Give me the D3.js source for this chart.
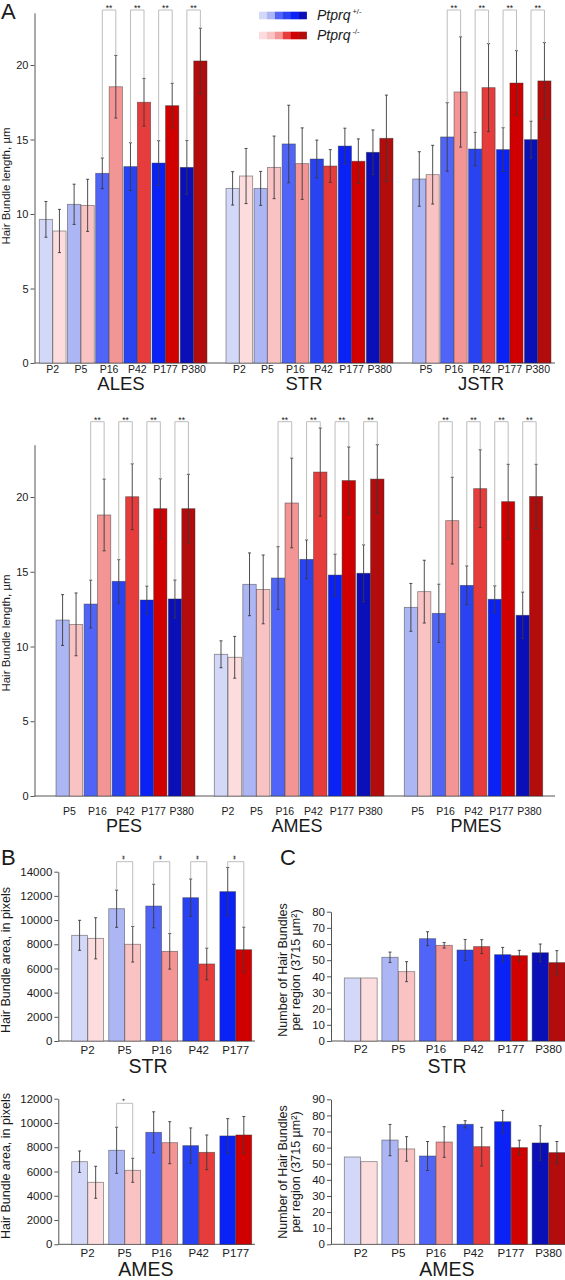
<!DOCTYPE html>
<html><head><meta charset="utf-8">
<script src="https://cdn.jsdelivr.net/npm/d3@7"></script>
<style>body{margin:0;background:#fff} svg{display:block;font-family:"Liberation Sans",Arial,Helvetica,sans-serif}</style>
</head><body><svg id="c" width="565" height="1280"></svg>
<script>
// ---------- DATA ----------
const ages = ["P2","P5","P16","P42","P177","P380"];
const genotypes = ["+/-","-/-"];
const hetColors = ["#d3d8f8","#adb6f4","#5065f7","#2a43f2","#0a22f5","#0a0fb8"];
const koColors  = ["#fcdcdc","#fac3c3","#f49595","#e63c3c","#d00000","#b20c0c"];
const lengthTicks = [0,5,10,15,20];

// Panel A – hair bundle length (µm); each entry [Ptprq+/-, Ptprq-/-]
const alesAges = ["P2","P5","P16","P42","P177","P380"];
const alesMean = [[9.64,8.86],[10.65,10.58],[12.73,18.54],[13.18,17.5],[13.42,17.27],[13.13,20.27]];
const alesErr  = [[1.2,1.45],[1.35,1.75],[1.03,2.1],[1.6,1.6],[1.5,1.5],[1.8,2.2]];
const alesSig  = ["","","**","**","**","**"];

const strAges = ["P2","P5","P16","P42","P177","P380"];
const strMean = [[11.72,12.55],[11.72,13.13],[14.7,13.38],[13.69,13.22],[14.56,13.54],[14.14,15.08]];
const strErr  = [[1.12,1.85],[1.14,2.1],[2.6,2.4],[1.27,1.1],[1.2,1.5],[1.5,2.9]];
const strSig  = ["","","","","",""];

const jstrAges = ["P5","P16","P42","P177","P380"];
const jstrMean = [[12.35,12.64],[15.17,18.19],[14.36,18.48],[14.32,18.79],[14.99,18.93]];
const jstrErr  = [[1.83,1.97],[2.3,3.7],[1.12,2.95],[1.47,2.17],[1.24,2.57]];
const jstrSig  = ["","**","**","**","**"];

const pesAges = ["P5","P16","P42","P177","P380"];
const pesMean = [[11.77,11.48],[12.84,18.8],[14.36,20.02],[13.11,19.22],[13.18,19.22]];
const pesErr  = [[1.7,2.1],[1.6,2.4],[1.45,2.2],[0.93,2.0],[1.27,2.3]];
const pesSig  = ["","**","**","**","**"];

const amesAges = ["P2","P5","P16","P42","P177","P380"];
const amesMean = [[9.48,9.28],[14.16,13.82],[14.58,19.6],[15.83,21.67],[14.78,21.1],[14.9,21.2]];
const amesErr  = [[0.9,1.4],[2.1,2.3],[2.1,3.0],[1.3,2.95],[1.4,2.25],[1.9,2.3]];
const amesSig  = ["","","**","**","**","**"];

const pmesAges = ["P5","P16","P42","P177","P380"];
const pmesMean = [[12.62,13.67],[12.22,18.42],[14.09,20.56],[13.16,19.69],[12.09,20.04]];
const pmesErr  = [[1.6,2.1],[1.95,2.9],[1.3,2.6],[0.9,2.5],[1.55,2.15]];
const pmesSig  = ["","**","**","**","**"];

// Panel B – hair bundle area (pixels)
const areaAges = ["P2","P5","P16","P42","P177"];
const areaStrMean = [[8740,8490],[10940,8000],[11160,7415],[11850,6370],[12350,7550]];
const areaStrErr  = [[1240,1700],[1540,1470],[1800,1470],[1550,1310],[2000,1860]];
const areaStrSig  = ["","**","**","**","**"];
const areaStrTicks = [0,2000,4000,6000,8000,10000,12000,14000];
const areaAmesMean = [[6810,5110],[7750,6100],[9230,8375],[8130,7580],[8930,9010]];
const areaAmesErr  = [[880,1320],[1900,990],[1690,1730],[1460,1430],[1430,1520]];
const areaAmesSig  = ["","*","","",""];
const areaAmesTicks = [0,2000,4000,6000,8000,10000,12000];

// Panel C – number of hair bundles per region
const countAges = ["P2","P5","P16","P42","P177","P380"];
const countStrMean = [[39,39],[51.8,42.9],[63.3,59.2],[56.3,58.4],[53.4,52.8],[54.6,48.5]];
const countStrErr  = [[0,0],[3.2,6.2],[4.3,1.7],[6.5,4.3],[4.5,3.3],[5.4,7.4]];
const countStrTicks = [0,10,20,30,40,50,60,70,80];
const countAmesMean = [[54.2,51.3],[64.7,59.2],[54.8,63.5],[74.5,60.6],[76.1,60.0],[62.9,56.9]];
const countAmesErr  = [[0,0],[9.7,7.6],[9.0,9.5],[2.2,12],[7,4.6],[10.7,6.9]];
const countAmesTicks = [0,10,20,30,40,50,60,70,80,90];

// ---------- DRAWING ----------
const svg = d3.select("#c");
const txt = "#1a1a1a";

function drawYAxis(y, ticks, x, fs, label, labelX, labelY, labelFs) {
  const g = svg.append("g").attr("transform", `translate(${x},0)`)
    .call(d3.axisLeft(y).tickValues(ticks).tickSize(4).tickSizeOuter(0).tickPadding(2).tickFormat(d3.format("d")));
  g.attr("font-family",null);
  g.select(".domain").attr("stroke","#555").attr("stroke-width",1);
  g.selectAll(".tick line").attr("stroke","#555");
  g.selectAll(".tick text").attr("fill",txt).style("font-size",fs+"px");
  const lines = Array.isArray(label) ? label : [label];
  lines.forEach((l,i)=>{
    svg.append("text").attr("transform",`translate(${labelX[i]},${labelY}) rotate(-90)`)
      .attr("text-anchor","middle").attr("fill",txt).style("font-size",labelFs+"px").text(l);
  });
}

function drawRegion(o) {
  const xb = d3.scaleBand().domain(o.ages).range([o.x0,o.x1]).paddingInner(o.pad);
  const xg = d3.scaleBand().domain([0,1]).range([0,xb.bandwidth()]).paddingInner(0.02);
  const y = o.y;
  const rows = o.ages.map((a,i)=>({age:a, ci:ages.indexOf(a), m:o.means[i], e:o.errs[i], s:o.sig?o.sig[i]:""}));
  const g = svg.append("g");
  rows.forEach(r=>{
    [0,1].forEach(k=>{
      const bx = xb(r.age)+xg(k), bw = xg.bandwidth();
      g.append("rect").attr("x",bx).attr("y",y(r.m[k])).attr("width",bw).attr("height",y(0)-y(r.m[k]))
        .attr("fill",(k===0?hetColors:koColors)[r.ci]).attr("stroke","rgba(50,50,50,0.55)").attr("stroke-width",0.8);
    });
  });
  rows.forEach(r=>{
    [0,1].forEach(k=>{
      if(!r.e[k]) return;
      const cx = xb(r.age)+xg(k)+xg.bandwidth()/2;
      const t = y(r.m[k]+r.e[k]), b = y(r.m[k]-r.e[k]);
      g.append("line").attr("x1",cx).attr("x2",cx).attr("y1",t).attr("y2",b).attr("stroke","#3a3a3a").attr("stroke-width",0.9);
      [t,b].forEach(v=>g.append("line").attr("x1",cx-1.5).attr("x2",cx+1.5).attr("y1",v).attr("y2",v).attr("stroke","#3a3a3a").attr("stroke-width",0.9));
    });
    if(r.s){
      const c0 = xb(r.age)+xg(0)+xg.bandwidth()/2, c1 = xb(r.age)+xg(1)+xg.bandwidth()/2;
      const t0 = y(r.m[0]+r.e[0]), t1 = y(r.m[1]+r.e[1]);
      g.append("path").attr("d",`M${c0},${t0}V${o.bracketY}H${c1}V${t1}`).attr("fill","none").attr("stroke","#bdbdbd").attr("stroke-width",1);
      const mx=(c0+c1)/2;
      if(o.stack){
        g.append("text").attr("transform",`translate(${mx+2},${o.bracketY-2}) rotate(-90)`)
          .attr("text-anchor","start").attr("fill",txt).style("font-size","7px").style("letter-spacing","-1px").text(r.s);
      } else {
        g.append("text").attr("x",mx).attr("y",o.bracketY+1).attr("text-anchor","middle").attr("fill",txt).style("font-size","8.5px").text(r.s);
      }
    }
  });
  rows.forEach(r=>{
    g.append("text").attr("x",xb(r.age)+xb.bandwidth()/2).attr("y",o.tickBase).attr("text-anchor","middle")
      .attr("fill",txt).style("font-size",o.tickFs+"px").text(r.age);
  });
  g.append("text").attr("x",o.nameX!=null?o.nameX:(o.x0+o.x1)/2).attr("y",o.nameBase).attr("text-anchor","middle")
    .attr("fill",txt).style("font-size",o.nameFs+"px").text(o.name);
}

function baseline(y0,x0,x1){
  svg.append("line").attr("x1",x0).attr("x2",x1).attr("y1",y0).attr("y2",y0).attr("stroke","#555").attr("stroke-width",1);
}

// ---- Panel A top row
const yA1 = d3.scaleLinear().domain([0,23.5]).range([363,12.85]);
baseline(363,34.5,555);
drawYAxis(yA1,lengthTicks,34.5,11,"Hair Bundle length, µm",[10],186,11.5);
const topCommon = {y:yA1,pad:0.05,bracketY:10,tickBase:373,tickFs:10.5,nameBase:390,nameFs:18.5};
drawRegion({...topCommon,name:"ALES",nameX:121,ages:alesAges,means:alesMean,errs:alesErr,sig:alesSig,x0:39.3,x1:207});
drawRegion({...topCommon,name:"STR",nameX:304,ages:strAges,means:strMean,errs:strErr,sig:strSig,x0:226,x1:393});
drawRegion({...topCommon,name:"JSTR",nameX:481,ages:jstrAges,means:jstrMean,errs:jstrErr,sig:jstrSig,x0:412.7,x1:551});

// ---- Panel A bottom row
const yA2 = d3.scaleLinear().domain([0,23.5]).range([796,444.7]);
baseline(796,34.5,555);
drawYAxis(yA2,lengthTicks,34.5,11,"Hair Bundle length, µm",[10],633,11.5);
const botCommon = {y:yA2,pad:0.05,bracketY:421.7,tickBase:814.5,tickFs:10.5,nameBase:831.5,nameFs:18};
drawRegion({...botCommon,name:"PES",nameX:124,ages:pesAges,means:pesMean,errs:pesErr,sig:pesSig,x0:56,x1:195});
drawRegion({...botCommon,name:"AMES",nameX:297,ages:amesAges,means:amesMean,errs:amesErr,sig:amesSig,x0:214.3,x1:384});
drawRegion({...botCommon,name:"PMES",nameX:476,ages:pmesAges,means:pmesMean,errs:pmesErr,sig:pmesSig,x0:404.3,x1:542.7});

// ---- Panel B
const yB1 = d3.scaleLinear().domain([0,14000]).range([1041,871.7]);
baseline(1041,58.3,255);
drawYAxis(yB1,areaStrTicks,58.3,11.5,"Hair Bundle area, in pixels",[10],960,12.5);
drawRegion({y:yB1,pad:0.14,bracketY:861.7,stack:true,tickBase:1053.5,tickFs:11.5,nameBase:1073,nameFs:19.5,nameX:148,
  name:"STR",ages:areaAges,means:areaStrMean,errs:areaStrErr,sig:areaStrSig,x0:71.7,x1:251.7});
const yB2 = d3.scaleLinear().domain([0,12000]).range([1244.3,1098.7]);
baseline(1244.3,58.3,255);
drawYAxis(yB2,areaAmesTicks,58.3,11.5,"Hair Bundle area, in pixels",[10],1166,12.5);
drawRegion({y:yB2,pad:0.14,bracketY:1103.3,stack:true,tickBase:1257,tickFs:11.5,nameBase:1275.5,nameFs:19.5,nameX:146,
  name:"AMES",ages:areaAges,means:areaAmesMean,errs:areaAmesErr,sig:areaAmesSig,x0:71.7,x1:251.7});

// ---- Panel C
const yC1 = d3.scaleLinear().domain([0,80]).range([1041,911.7]);
baseline(1041,331,565);
drawYAxis(yC1,countStrTicks,331,11.5,["Number of Hair Bundles","per region (3715 µm²)"],[287,300],970,12.5);
drawRegion({y:yC1,pad:0.125,bracketY:0,tickBase:1052.5,tickFs:11.5,nameBase:1073,nameFs:19.5,nameX:447,
  name:"STR",ages:countAges,means:countStrMean,errs:countStrErr,sig:null,x0:344.3,x1:565});
const yC2 = d3.scaleLinear().domain([0,90]).range([1244.3,1099.3]);
baseline(1244.3,331,565);
drawYAxis(yC2,countAmesTicks,331,11.5,["Number of Hair Bundles","per region (3715 µm²)"],[287,300],1172,12.5);
drawRegion({y:yC2,pad:0.125,bracketY:0,tickBase:1257,tickFs:11.5,nameBase:1275.5,nameFs:19.5,nameX:447,
  name:"AMES",ages:countAges,means:countAmesMean,errs:countAmesErr,sig:null,x0:344.3,x1:565});

// ---- Panel letters
[["A",1,19],["B",1,865],["C",280,865]].forEach(([t,x,y])=>
  svg.append("text").attr("x",x).attr("y",y).attr("fill",txt).style("font-size","22px").text(t));

// ---- Legend
const sw = 7.95;
[hetColors,koColors].forEach((cols,row)=>{
  const y0 = row===0?11.7:31.7;
  svg.append("g").selectAll("rect").data(cols).join("rect")
    .attr("x",(d,i)=>259+i*sw).attr("y",y0).attr("width",sw+0.2).attr("height",7.6).attr("fill",d=>d);
  const t = svg.append("text").attr("x",317).attr("y",row===0?20:39.5).attr("fill",txt)
    .style("font-size","14px").style("font-style","italic");
  t.append("tspan").text("Ptprq");
  t.append("tspan").attr("dx",2).attr("dy",-6).style("font-size","7.5px").style("font-style","normal").text(genotypes[row]);
});
</script></body></html>
